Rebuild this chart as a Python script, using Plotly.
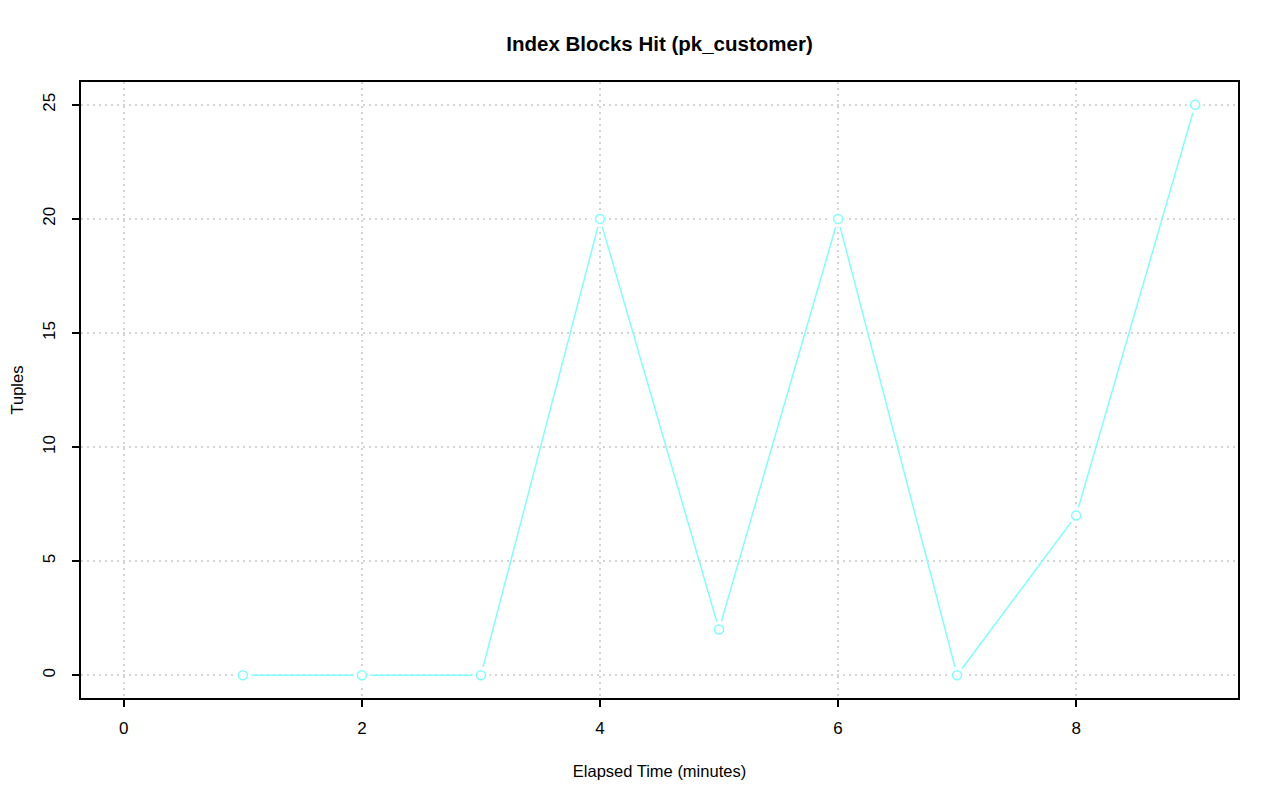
import plotly.graph_objects as go

elapsed_minutes = [1, 2, 3, 4, 5, 6, 7, 8, 9]
tuples = [0, 0, 0, 20, 2, 20, 0, 7, 25]
x_ticks = [0, 2, 4, 6, 8]
y_ticks = [0, 5, 10, 15, 20, 25]

line_color = "#7fffff"
font_family = "Liberation Sans, Arial, Helvetica, sans-serif"

# page body has an 8px margin; compensate so the figure fits the 1280x801 window
W, H = 1272, 793
OFF = 8

fig = go.Figure()
fig.add_trace(go.Scatter(
    x=elapsed_minutes, y=tuples, mode="lines",
    line=dict(color=line_color, width=1.5), hoverinfo="skip", showlegend=False))
# white discs to make gaps like R type="b"
fig.add_trace(go.Scatter(
    x=elapsed_minutes, y=tuples, mode="markers",
    marker=dict(symbol="circle", size=17, color="white", line=dict(width=0)),
    hoverinfo="skip", showlegend=False))
fig.add_trace(go.Scatter(
    x=elapsed_minutes, y=tuples, mode="markers",
    marker=dict(symbol="circle-open", size=9, color=line_color, line=dict(width=1.5, color=line_color)),
    showlegend=False))

axis_common = dict(
    showline=True, linecolor="black", linewidth=2, mirror=True,
    ticks="outside", ticklen=7, tickwidth=1.5, tickcolor="black",
    showgrid=True, gridcolor="#d3d3d3", griddash="2px,4px", gridwidth=1.5,
    zeroline=False, automargin=False,
)
tick_font = dict(size=17, color="black", family=font_family)

fig.update_layout(
    width=W, height=H,
    paper_bgcolor="white", plot_bgcolor="white",
    margin=dict(l=81 - OFF, r=42, t=82 - OFF, b=103, autoexpand=False),
    title=dict(text="<b>Index Blocks Hit (pk_customer)</b>",
               x=((81 + 1238) / 2 - OFF) / W, xanchor="center",
               y=1 - (44 - OFF) / H, yanchor="middle",
               font=dict(size=20.5, color="black", family=font_family)),
    xaxis=dict(range=[-0.36, 9.36], tickvals=x_ticks, ticktext=[str(v) for v in x_ticks],
               tickfont=tick_font,
               title=dict(text="Elapsed Time (minutes)", standoff=28,
                          font=dict(size=16.5, color="black", family=font_family)),
               ticklabelstandoff=7, **axis_common),
    yaxis=dict(range=[-1, 26], tickvals=y_ticks, ticktext=[str(v) for v in y_ticks],
               tickangle=-90, tickfont=tick_font,
               title=dict(text="Tuples", standoff=30,
                          font=dict(size=16.5, color="black", family=font_family)),
               ticklabelstandoff=10, **axis_common),
    font=dict(family=font_family, color="black"),
)

fig.write_html("out.html")
